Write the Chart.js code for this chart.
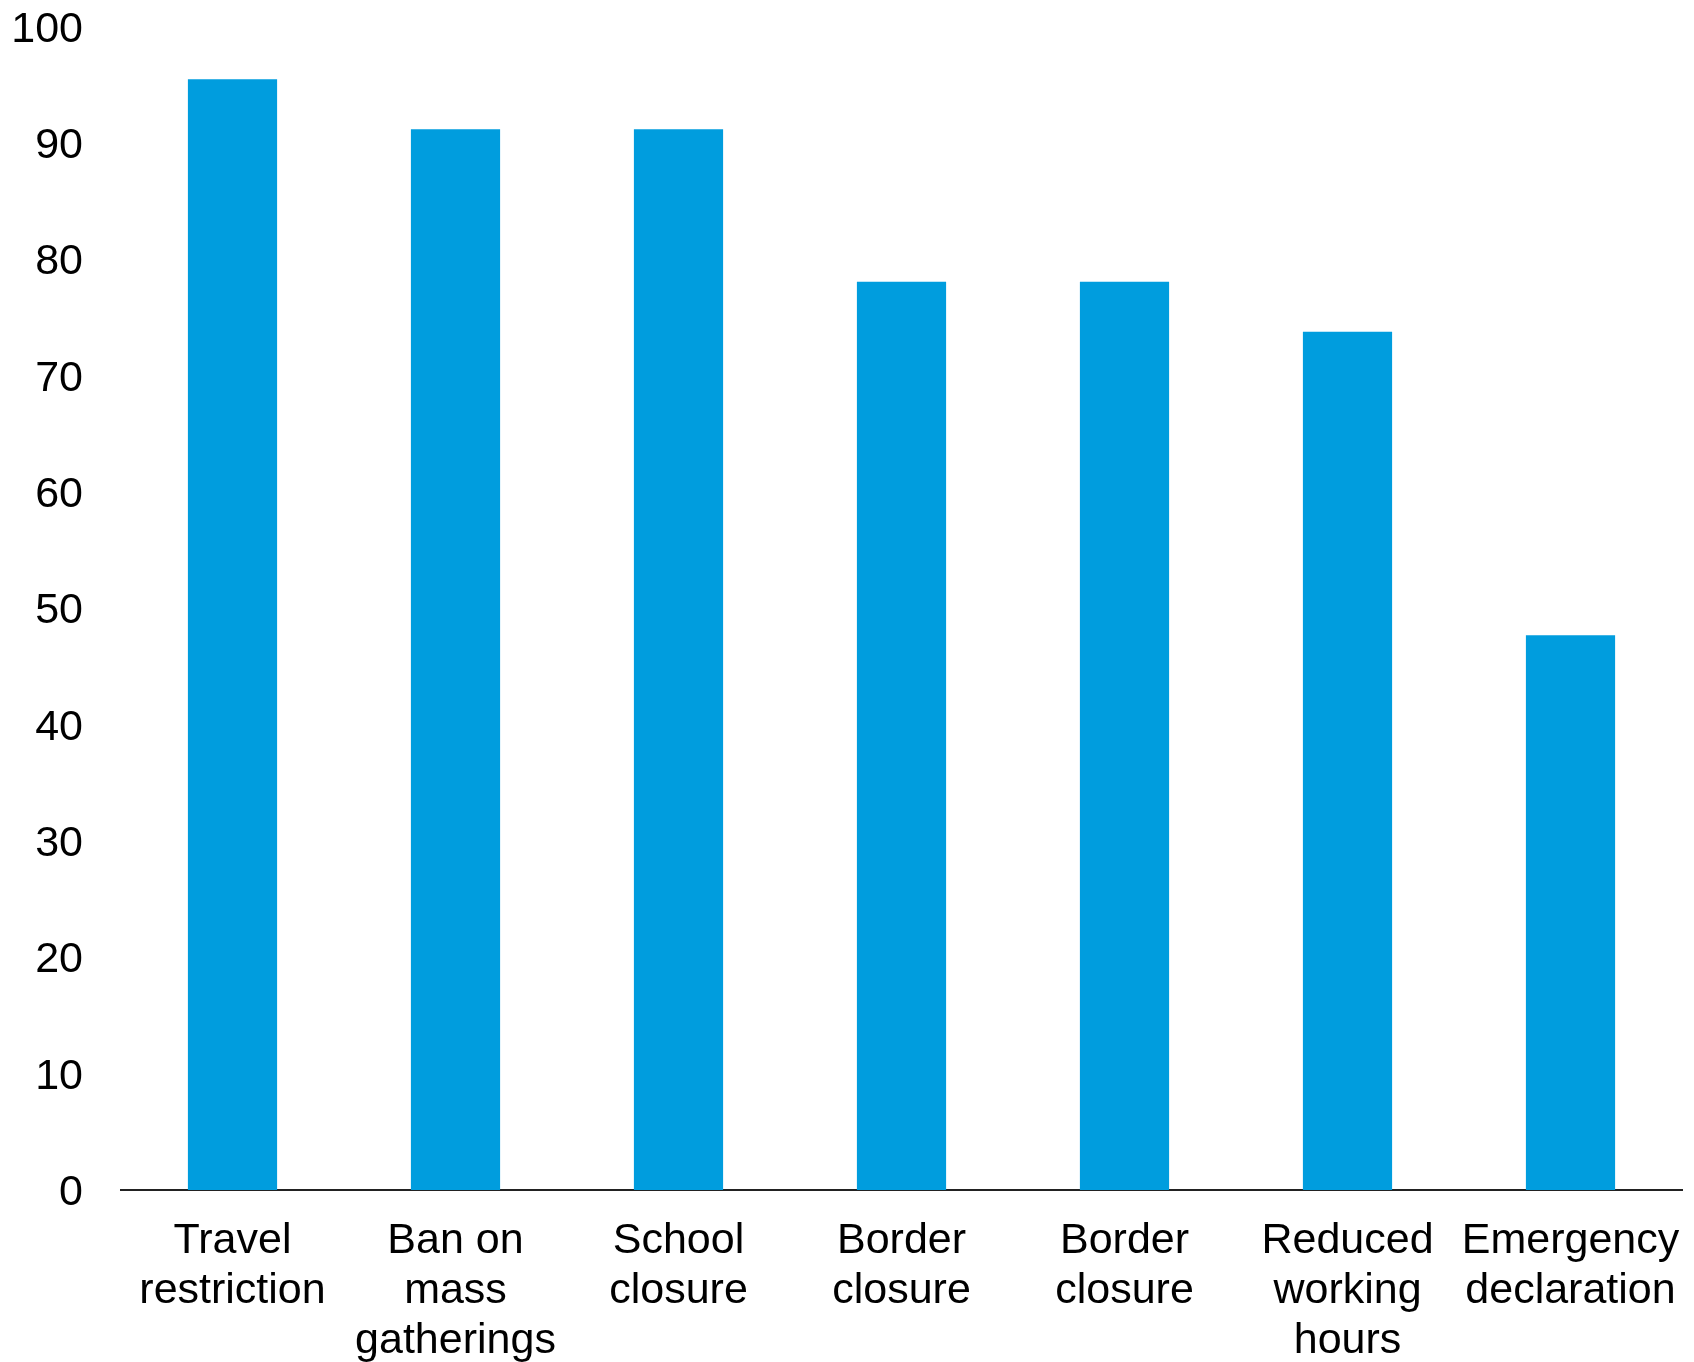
<!DOCTYPE html>
<html>
<head>
<meta charset="utf-8">
<script src="https://cdn.jsdelivr.net/npm/chart.js@4/dist/chart.umd.min.js"></script>
<style>
  html, body { margin: 0; padding: 0; background: #fff; }
  #wrap { width: 1694px; height: 1362px; position: relative; }
</style>
</head>
<body>
<div id="wrap"><canvas id="chart"></canvas></div>
<script>
// categories (multi-line labels as in the picture)
const categories = [
    ['Travel', 'restriction'],
    ['Ban on', 'mass', 'gatherings'],
    ['School', 'closure'],
    ['Border', 'closure'],
    ['Border', 'closure'],
    ['Reduced', 'working', 'hours'],
    ['Emergency', 'declaration']
];

// share of countries
const values = [95.5, 91.2, 91.2, 78.1, 78.1, 73.8, 47.7];

const yTicks = [0, 10, 20, 30, 40, 50, 60, 70, 80, 90, 100];

const barColor = '#009DDE';

const ctx = document.getElementById('chart').getContext('2d');
new Chart(ctx, {
    type: 'bar',
    data: {
        labels: categories,
        datasets: [
            {
                data: values,
                backgroundColor: barColor,
                borderWidth: 0,
                barPercentage: 0.4,
                categoryPercentage: 1
            }
        ]
    },
    options: {
        responsive: true,
        maintainAspectRatio: false,
        animation: false,
        layout: {
            padding: { top: 27, right: 12, bottom: 0, left: 0 }
        },
        plugins: {
            legend: { display: false },
            tooltip: { enabled: false }
        },
        scales: {
            x: {
                grid: { display: false, drawTicks: false },
                border: { display: true, color: '#222', width: 2 },
                ticks: {
                    color: '#000',
                    maxRotation: 0,
                    autoSkip: false,
                    padding: 26,
                    font: { family: '"Liberation Sans", Arial, sans-serif', size: 43, lineHeight: 1.16 }
                },
                afterFit: (scale) => {
                    scale.height = 172;
                    scale.paddingLeft = 0;
                    scale.paddingRight = 0;
                }
            },
            y: {
                min: 0,
                max: 100,
                grid: { display: false, drawTicks: false },
                border: { display: false },
                afterBuildTicks: (scale) => {
                    scale.ticks = yTicks.map(v => ({ value: v }));
                },
                ticks: {
                    color: '#000',
                    padding: 38,
                    labelOffset: 3,
                    font: { family: '"Liberation Sans", Arial, sans-serif', size: 43 }
                },
                afterFit: (scale) => {
                    scale.width = 121;
                    scale.paddingTop = 0;
                    scale.paddingBottom = 0;
                }
            }
        }
    }
});
</script>
</body>
</html>
